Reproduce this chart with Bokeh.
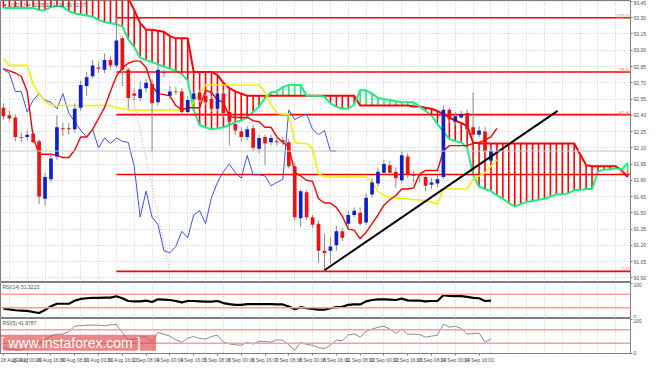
import numpy as np
from bokeh.plotting import figure
from bokeh.layouts import column
from bokeh.models import Range1d, FixedTicker, Label, Span, PrintfTickFormatter
from bokeh.core.properties import value
from bokeh.embed import file_html
from bokeh.resources import INLINE

# ---------------- data (H4 bars, index 0 = 28 Aug 2017 08:00) ----------------
bar_open = [92.47, 92.40, 92.38, 92.20, 92.20, 92.23, 92.16, 91.63, 91.81, 92.02,
            92.28, 92.28, 92.27, 92.47, 92.67, 92.76, 92.84, 92.82, 92.91, 92.86,
            93.11, 92.82, 92.60, 92.56, 92.65, 92.69, 92.52, 92.80, 92.58, 92.62,
            92.62, 92.43, 92.55, 92.61, 92.58, 92.55, 92.46, 92.60, 92.43, 92.32,
            92.25, 92.20, 92.28, 92.09, 92.20, 92.15, 92.16, 92.17, 92.15, 91.93,
            91.45, 91.69, 91.46, 91.40, 91.15, 91.15, 91.20, 91.33, 91.40, 91.48,
            91.50, 91.41, 91.67, 91.77, 91.87, 91.94, 91.88, 91.80, 92.02, 91.85,
            91.85, 91.83, 91.76, 91.77, 91.83, 92.45, 92.34, 92.38, 92.42, 92.29,
            92.22, 92.25, 91.98]
bar_high = [92.51, 92.44, 92.41, 92.24, 92.26, 92.27, 92.18, 91.87, 92.05, 92.40,
            92.33, 92.33, 92.51, 92.72, 92.80, 92.91, 92.89, 92.97, 92.95, 93.30,
            93.13, 92.84, 92.65, 92.71, 92.74, 92.73, 92.87, 92.82, 92.67, 92.66,
            92.65, 92.58, 92.62, 92.64, 92.60, 92.58, 92.62, 92.63, 92.45, 92.36,
            92.29, 92.30, 92.31, 92.22, 92.22, 92.22, 92.20, 92.20, 92.18, 91.96,
            91.72, 91.71, 91.48, 91.43, 91.31, 91.27, 91.38, 91.36, 91.52, 91.55,
            91.55, 91.68, 91.82, 91.92, 91.99, 91.98, 91.92, 92.07, 92.05, 91.89,
            91.87, 91.85, 91.82, 91.85, 92.49, 92.47, 92.43, 92.44, 92.45, 92.61,
            92.30, 92.29, 92.11]
bar_low = [92.36, 92.34, 92.16, 92.15, 92.17, 92.14, 91.58, 91.57, 91.78, 91.99,
           92.21, 92.22, 92.24, 92.44, 92.58, 92.74, 92.79, 92.79, 92.82, 92.84,
           92.67, 92.46, 92.54, 92.53, 92.61, 92.06, 92.49, 92.75, 92.55, 92.59,
           92.40, 92.40, 92.53, 92.52, 92.49, 92.43, 92.44, 92.38, 92.12, 92.22,
           92.16, 92.17, 92.07, 92.05, 91.94, 92.12, 92.12, 92.12, 91.91, 91.43,
           91.37, 91.43, 91.36, 91.04, 90.96, 91.03, 91.15, 91.24, 91.36, 91.46,
           91.38, 91.39, 91.64, 91.74, 91.85, 91.84, 91.73, 91.77, 91.82, 91.78,
           91.78, 91.70, 91.72, 91.74, 91.81, 92.33, 92.30, 92.37, 92.25, 92.20,
           92.20, 92.05, 91.96]
bar_close = [92.39, 92.37, 92.20, 92.20, 92.22, 92.15, 91.65, 91.83, 92.00, 92.29,
             92.28, 92.28, 92.46, 92.68, 92.75, 92.86, 92.83, 92.91, 92.86, 93.09,
             92.82, 92.56, 92.58, 92.64, 92.70, 92.51, 92.82, 92.79, 92.62, 92.62,
             92.43, 92.54, 92.60, 92.54, 92.52, 92.46, 92.60, 92.42, 92.34, 92.26,
             92.20, 92.27, 92.10, 92.19, 92.14, 92.19, 92.16, 92.15, 91.93, 91.46,
             91.70, 91.46, 91.39, 91.15, 91.13, 91.19, 91.33, 91.27, 91.48, 91.52,
             91.40, 91.64, 91.78, 91.88, 91.95, 91.87, 91.82, 92.03, 91.85, 91.85,
             91.84, 91.75, 91.78, 91.81, 92.45, 92.36, 92.39, 92.41, 92.27, 92.22,
             92.26, 92.07, 92.07]

tenkan = [92.83, 92.81, 92.79, 92.76, 92.62, 92.20, 92.04, 92.04, 92.04, 92.03,
          92.01, 92.01, 92.08, 92.20, 92.20, 92.27, 92.37, 92.47, 92.62, 92.76,
          92.84, 92.88, 92.90, 92.90, 92.84, 92.67, 92.60, 92.59, 92.58, 92.49,
          92.45, 92.47, 92.47, 92.47, 92.63, 92.61, 92.54, 92.52, 92.39, 92.38,
          92.38, 92.38, 92.35, 92.34, 92.29, 92.29, 92.20, 92.15, 92.11, 91.87,
          91.84, 91.80, 91.79, 91.63, 91.59, 91.59, 91.55, 91.47, 91.35, 91.34,
          91.26, 91.32, 91.40, 91.48, 91.57, 91.62, 91.66, 91.72, 91.72, 91.73,
          91.86, 91.89, 91.89, 91.89, 92.07, 92.12, 92.12, 92.12, 92.12, 92.14,
          92.15, 92.17, 92.20, 92.28]
kijun = [92.93, 92.86, 92.86, 92.86, 92.86, 92.69, 92.60, 92.53, 92.49, 92.49,
         92.49, 92.49, 92.49, 92.49, 92.49, 92.49, 92.49, 92.49, 92.49, 92.47,
         92.46, 92.45, 92.45, 92.45, 92.45, 92.45, 92.45, 92.45, 92.45, 92.45,
         92.45, 92.45, 92.52, 92.60, 92.68, 92.68, 92.68, 92.68, 92.68, 92.68,
         92.68, 92.68, 92.68, 92.68, 92.61, 92.50, 92.42, 92.41, 92.41, 92.15,
         92.14, 92.14, 92.09, 91.86, 91.83, 91.83, 91.83, 91.83, 91.83, 91.83,
         91.83, 91.83, 91.78, 91.70, 91.66, 91.64, 91.64, 91.63, 91.63, 91.62,
         91.62, 91.61, 91.60, 91.58, 91.72, 91.72, 91.72, 91.72, 91.72, 91.81,
         91.84, 91.87, 91.93, 91.99]
span_a = [93.39, 93.39, 93.39, 93.39, 93.39, 93.39, 93.37, 93.37, 93.40, 93.41,
          93.40, 93.36, 93.34, 93.33, 93.32, 93.31, 93.28, 93.26, 93.25, 93.24,
          93.22, 93.10, 93.03, 92.93, 92.91, 92.89, 92.87, 92.85, 92.83, 92.81,
          92.78, 92.72, 92.45, 92.31, 92.29, 92.27, 92.28, 92.29, 92.31, 92.34,
          92.35, 92.38, 92.43, 92.48, 92.56, 92.61, 92.62, 92.66, 92.68, 92.68,
          92.68, 92.58, 92.58, 92.58, 92.57, 92.51, 92.48, 92.46, 92.46, 92.50,
          92.63, 92.63, 92.60, 92.56, 92.55, 92.54, 92.53, 92.52, 92.52, 92.52,
          92.48, 92.44, 92.40, 92.32, 92.25, 92.18, 92.16, 92.15, 92.10, 91.85,
          91.74, 91.72, 91.70, 91.66, 91.63, 91.59, 91.56, 91.58, 91.60, 91.61,
          91.62, 91.63, 91.65, 91.67, 91.67, 91.68, 91.71, 91.71, 91.72, 91.72,
          91.88, 91.90, 91.90, 91.91, 91.90, 91.96]
span_b = [93.70, 93.70, 93.70, 93.70, 93.70, 93.70, 93.70, 93.70, 93.70, 93.70,
          93.70, 93.70, 93.70, 93.70, 93.70, 93.70, 93.70, 93.70, 93.70, 93.70,
          93.60, 93.48, 93.37, 93.25, 93.19, 93.19, 93.18, 93.17, 93.13, 93.11,
          93.11, 93.11, 92.80, 92.80, 92.80, 92.80, 92.77, 92.70, 92.65, 92.62,
          92.60, 92.58, 92.58, 92.58, 92.58, 92.58, 92.58, 92.58, 92.58, 92.58,
          92.58, 92.58, 92.58, 92.58, 92.58, 92.58, 92.58, 92.58, 92.58, 92.58,
          92.49, 92.49, 92.49, 92.49, 92.49, 92.49, 92.49, 92.49, 92.49, 92.48,
          92.48, 92.47, 92.46, 92.44, 92.41, 92.38, 92.35, 92.33, 92.30, 92.15,
          92.14, 92.14, 92.14, 92.14, 92.14, 92.14, 92.14, 92.14, 92.14, 92.14,
          92.14, 92.14, 92.14, 92.14, 92.14, 92.14, 92.14, 92.04, 91.94, 91.93,
          91.93, 91.93, 91.93, 91.93, 91.89, 91.83]
chikou_shift = 26

rsi14 = [28, 25.5, 23, 22, 21, 18, 15, 24, 35, 42,
         42, 42, 51, 56, 58, 59, 59, 60, 60, 64,
         58, 50, 49, 49, 51, 47, 55, 54, 53, 50,
         46, 50, 50, 49, 48, 48, 50, 44, 41, 39,
         39, 41, 41, 41, 41, 41, 40, 40, 34, 26,
         32, 29, 27, 25, 25, 29, 32, 33, 39, 40,
         40, 49, 53, 55, 55, 54, 53, 57, 52, 51,
         51, 49, 50, 50, 67, 65, 64, 64, 62, 59,
         58, 50, 51.3]
rsi5 = [15, 12, 10, 9, 20, 28, 33, 40, 52, 57,
        57, 65, 81, 83, 84, 84, 84, 82, 85, 86,
        62, 40, 42, 48, 50, 34, 62, 57, 51, 40,
        33, 45, 50, 44, 42, 50, 54, 33, 28, 25,
        24, 33, 27, 36, 35, 33, 40, 39, 25, 9,
        33, 26, 24, 16, 14, 24, 39, 37, 55, 58,
        48, 66, 72, 78, 81, 72, 60, 72, 57, 57,
        56, 48, 51, 54, 87, 78, 81, 74, 57, 59,
        60, 33, 42]
rsi_levels = [30, 70]

fib_anchor_bar = [19, 28]
fib_anchor_price = [93.30, 90.96]
fib_ratios = [0.0, 38.2, 61.8, 78.6, 100.0]
trend_bar = [54, 93.2]
trend_price = [90.97, 92.44]

time_tick_bars = list(range(0, 84, 4))
time_tick_labels = ["28 Aug 2017", "29 Aug 00:00", "29 Aug 16:00", "30 Aug 08:00",
                    "31 Aug 00:00", "31 Aug 16:00", "1 Sep 08:00", "4 Sep 00:00",
                    "4 Sep 16:00", "5 Sep 08:00", "6 Sep 00:00", "6 Sep 16:00",
                    "7 Sep 08:00", "8 Sep 00:00", "8 Sep 16:00", "11 Sep 08:00",
                    "12 Sep 00:00", "12 Sep 16:00", "13 Sep 08:00", "14 Sep 00:00",
                    "14 Sep 16:00"]
price_ticks = [round(90.90 + 0.15 * k, 2) for k in range(18)]

# ---------------- styling ----------------
FONT = "Liberation Sans"
BULL = "#1020c8"
BEAR = "#f01010"
WICK = "#8a8a8a"
GREEN = "#19f07f"
RED = "#ff0000"
GRID = "#c8c8c8"
FRAME_W = 630
X0, X1 = -0.49, 105.47
grid_bars = list(range(1, 106, 3))


def base_fig(h, yr, xaxis=False):
    f = figure(frame_width=FRAME_W, frame_height=h, x_range=Range1d(X0, X1),
               y_range=yr, output_backend="svg", toolbar_location=None,
               x_axis_location="below" if xaxis else None, y_axis_location="right",
               min_border_left=0, min_border_right=0, min_border_top=0,
               min_border_bottom=0, background_fill_color="white",
               border_fill_color="white")
    f.outline_line_color = "#808080"
    f.outline_line_width = 1
    f.xgrid.ticker = FixedTicker(ticks=grid_bars)
    f.xgrid.grid_line_color = GRID
    f.xgrid.grid_line_dash = "1 2"
    ax = f.yaxis[0]
    ax.major_label_text_font_size = "5px"
    ax.major_label_text_font = FONT
    ax.major_label_text_color = "#505050"
    ax.major_tick_out = 2
    ax.major_tick_in = 0
    ax.minor_tick_out = 0
    ax.minor_tick_in = 0
    ax.major_label_standoff = 1
    ax.axis_line_color = "#808080"
    ax.major_tick_line_color = "#808080"
    return f


# ---------------- main price panel ----------------
main = base_fig(282, Range1d(90.857, 93.459))
main.yaxis[0].ticker = FixedTicker(ticks=price_ticks)
main.yaxis[0].formatter = PrintfTickFormatter(format="%.2f")
main.ygrid.ticker = FixedTicker(ticks=price_ticks)
main.ygrid.grid_line_color = GRID
main.ygrid.grid_line_dash = "1 2"

n_cloud = len(span_a)
cx = list(range(n_cloud))
hatch_col = [RED if b > a else GREEN for a, b in zip(span_a, span_b)]
main.segment(x0=cx, y0=span_a, x1=cx, y1=span_b, line_color=hatch_col, line_width=1.6)
main.line(cx, span_b, line_color=RED, line_width=2)
main.line(cx, span_a, line_color=GREEN, line_width=2)

# fibonacci
lo, hi = fib_anchor_price[1], fib_anchor_price[0]
fib_prices = [lo + r / 100.0 * (hi - lo) for r in fib_ratios]
main.segment(x0=[fib_anchor_bar[0]] * len(fib_prices), y0=fib_prices,
             x1=[X1] * len(fib_prices), y1=fib_prices, line_color=RED, line_width=1.6)
main.line(fib_anchor_bar, fib_anchor_price, line_color="#ff8c8c", line_width=1,
          line_dash="1 2")
main.text(x=[X1 - 0.3] * len(fib_prices), y=fib_prices,
          text=["%.1f" % r for r in fib_ratios], text_align="right",
          text_baseline="bottom", text_font_size="5px", text_font=value(FONT),
          text_color="#ff7070")

nb = len(bar_close)
bx = list(range(nb))
chx = list(range(nb - chikou_shift))
main.line(chx, bar_close[chikou_shift:], line_color="#3f51f5", line_width=1)
main.line(list(range(len(kijun))), kijun, line_color="#f2f200", line_width=1.6)
main.line(list(range(len(tenkan))), tenkan, line_color=RED, line_width=1.4)

# bid line
main.add_layout(Span(location=bar_close[-1], dimension="width",
                     line_color="#c4c4c4", line_width=1))

# candles
main.segment(x0=bx, y0=bar_high, x1=bx, y1=bar_low, line_color=WICK, line_width=1)
tops = [max(o, c) for o, c in zip(bar_open, bar_close)]
bots = [min(o, c) for o, c in zip(bar_open, bar_close)]
bots = [b if t - b > 0.008 else t - 0.008 for t, b in zip(tops, bots)]
cols = [BULL if c > o else BEAR for o, c in zip(bar_open, bar_close)]
main.vbar(x=bx, width=0.62, top=tops, bottom=bots, fill_color=cols, line_color=None)

# trend line
main.line(trend_bar, trend_price, line_color="black", line_width=2)

main.add_layout(Label(x=X0, y=93.459, x_offset=2, y_offset=-1, text_baseline="top",
                      text="\u25bc USDX,H4  92.05 92.11 91.96 92.07",
                      text_font_size="5px", text_font=FONT, text_color="#505050"))
main.add_layout(Label(x=X1, y=bar_close[-1], x_offset=1, text_baseline="middle",
                      text="%.2f" % bar_close[-1], text_font_size="5px", text_font=FONT,
                      text_color="white", background_fill_color="black"))

# ---------------- RSI panels ----------------
def rsi_panel(h, vals, color, width, title, xaxis=False):
    f = base_fig(h, Range1d(-1, 104), xaxis=xaxis)
    f.ygrid.grid_line_color = None
    f.yaxis[0].ticker = FixedTicker(ticks=[0, 100])
    for lv in rsi_levels:
        f.add_layout(Span(location=lv, dimension="width", line_color="#ff9c9c",
                          line_width=1.5))
        f.add_layout(Label(x=X1, y=lv, x_offset=2, text_baseline="middle",
                           text=str(lv), text_font_size="5px", text_font=FONT,
                           text_color="white", background_fill_color="#ff2020"))
    f.line(list(range(len(vals))), vals, line_color=color, line_width=width)
    f.add_layout(Label(x=X0, y=104, x_offset=2, y_offset=-1, text_baseline="top",
                       text=title, text_font_size="5px", text_font=FONT,
                       text_color="#505050"))
    return f


rsi_a = rsi_panel(36, rsi14, "black", 2.2, "RSI(14) 51.3223")
rsi_b = rsi_panel(35, rsi5, "#8a8a8a", 1, "RSI(5) 41.9787", xaxis=True)
xa = rsi_b.xaxis[0]
xa.ticker = FixedTicker(ticks=time_tick_bars)
xa.major_label_overrides = {b: t for b, t in zip(time_tick_bars, time_tick_labels)}
xa.major_label_text_align = "left"
xa.major_label_text_font_size = "5px"
xa.major_label_text_font = FONT
xa.major_label_text_color = "#505050"
xa.major_tick_out = 2
xa.major_tick_in = 0
xa.minor_tick_out = 0
xa.minor_tick_in = 0
xa.major_label_standoff = 1
xa.axis_line_color = "#808080"
xa.major_tick_line_color = "#808080"

rsi_b.add_layout(Label(x=X0, y=55, text_baseline="top",
                       text=" [  www.instaforex.com  ] ", text_font_size="14px",
                       text_font=FONT, text_color="white",
                       background_fill_color="#e04848", background_fill_alpha=0.65))

layout = column(main, rsi_a, rsi_b, spacing=0)
open("out.html", "w").write(file_html(layout, INLINE))
